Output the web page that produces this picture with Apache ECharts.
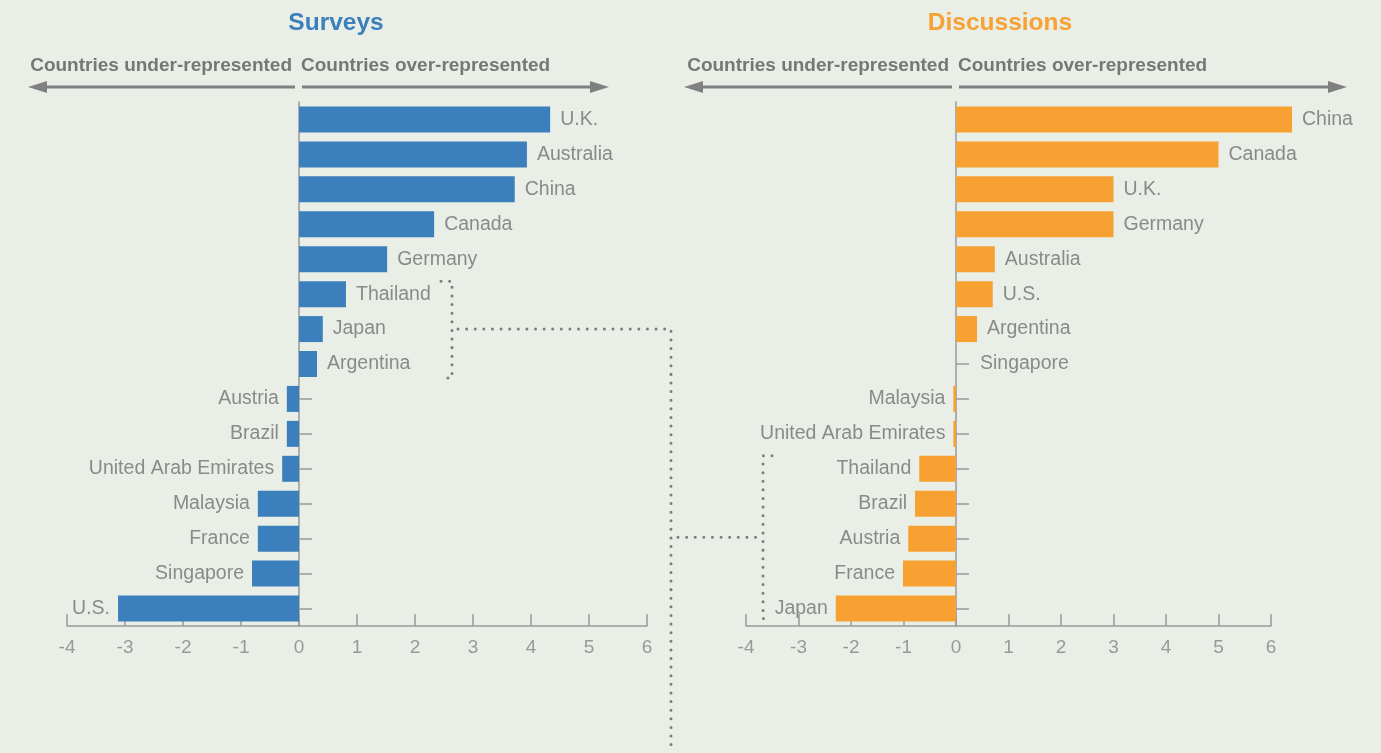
<!DOCTYPE html>
<html>
<head>
<meta charset="utf-8">
<script src="https://cdn.jsdelivr.net/npm/echarts@6/dist/echarts.min.js"></script>
<style>
  html, body { margin: 0; padding: 0; background: #e9efe6; }
  #chart { width: 1381px; height: 753px; }
</style>
</head>
<body>
<div id="chart"></div>
<script>
// Survey representation by country (over/under-represented index)
const surveyCountries = ['U.K.', 'Australia', 'China', 'Canada', 'Germany', 'Thailand', 'Japan', 'Argentina',
  'Austria', 'Brazil', 'United Arab Emirates', 'Malaysia', 'France', 'Singapore', 'U.S.'];
const surveyValues = [4.33, 3.93, 3.72, 2.33, 1.52, 0.81, 0.41, 0.31,
  -0.21, -0.21, -0.29, -0.71, -0.71, -0.81, -3.12];

// Discussion representation by country
const discussionCountries = ['China', 'Canada', 'U.K.', 'Germany', 'Australia', 'U.S.', 'Argentina', 'Singapore',
  'Malaysia', 'United Arab Emirates', 'Thailand', 'Brazil', 'Austria', 'France', 'Japan'];
const discussionValues = [6.4, 5.0, 3.0, 3.0, 0.74, 0.70, 0.40, 0,
  -0.05, -0.05, -0.70, -0.78, -0.91, -1.01, -2.29];

const panelTitles = ['Surveys', 'Discussions'];
const directionLabels = ['Countries under-represented', 'Countries over-represented'];
const axisMin = -4, axisMax = 6, axisStep = 1;

const FONT = '"Liberation Sans", Arial, sans-serif';
const BLUE = '#3b80bd';
const ORANGE = '#f7a133';
const GREY_TEXT = '#8a8a8a';
const AXIS = '#9a9a9a';

const grids = [
  { left: 67, top: 102, width: 580, height: 524 },
  { left: 746, top: 102, width: 525, height: 524 }
];

function barData(values) {
  return values.map(v => ({
    value: v,
    label: {
      position: v < 0 ? 'left' : 'right',
      distance: v === 0 ? 24 : (v < 0 ? 8 : 10)
    }
  }));
}

function xAxisFor(i) {
  return {
    gridIndex: i, type: 'value', min: axisMin, max: axisMax, interval: axisStep,
    splitLine: { show: false },
    axisLine: { show: true, lineStyle: { color: AXIS, width: 1.5 } },
    axisTick: { show: true, inside: true, length: 12, lineStyle: { color: AXIS, width: 1.5 } },
    axisLabel: { color: '#999', fontFamily: FONT, fontSize: 19, margin: 12 }
  };
}

function yAxisFor(i, cats) {
  return {
    gridIndex: i, type: 'category', data: cats, inverse: true,
    axisLine: { show: true, onZero: true, lineStyle: { color: AXIS, width: 1.5 } },
    axisTick: { show: true, inside: true, length: 13, alignWithLabel: true, lineStyle: { color: AXIS, width: 1.5 } },
    axisLabel: { show: false }
  };
}

function seriesFor(i, values, color) {
  return {
    type: 'bar', xAxisIndex: i, yAxisIndex: i,
    data: barData(values),
    barWidth: 26, clip: false,
    itemStyle: { color: color },
    label: {
      show: true, formatter: '{b}', color: GREY_TEXT,
      fontFamily: FONT, fontSize: 19.5
    }
  };
}

const chart = echarts.init(document.getElementById('chart'), null, { renderer: 'canvas' });

chart.setOption({
  backgroundColor: '#e9efe6',
  animation: false,
  title: [
    { text: panelTitles[0], left: 331, top: 6, textAlign: 'center',
      textStyle: { color: BLUE, fontFamily: FONT, fontSize: 24.5, fontWeight: 'bold' } },
    { text: panelTitles[1], left: 995, top: 6, textAlign: 'center',
      textStyle: { color: ORANGE, fontFamily: FONT, fontSize: 24.5, fontWeight: 'bold' } }
  ],
  grid: grids,
  xAxis: [xAxisFor(0), xAxisFor(1)],
  yAxis: [yAxisFor(0, surveyCountries), yAxisFor(1, discussionCountries)],
  series: [
    seriesFor(0, surveyValues, BLUE),
    seriesFor(1, discussionValues, ORANGE)
  ]
});

// Decorations: direction arrows above each panel and dotted brackets linking countries
const graphics = [];
const arrowY = 87;
const arrowColor = '#808080';

function addHeader(gridIndex, leftTip, rightTip) {
  const zeroX = chart.convertToPixel({ gridIndex: gridIndex }, [0, 0])[0];
  graphics.push(
    { type: 'text', x: zeroX - 7, y: 66, style: { text: directionLabels[0], fill: '#777', font: 'bold 19px ' + FONT, textAlign: 'right', textVerticalAlign: 'middle' } },
    { type: 'text', x: zeroX + 2, y: 66, style: { text: directionLabels[1], fill: '#777', font: 'bold 19px ' + FONT, textAlign: 'left', textVerticalAlign: 'middle' } },
    { type: 'line', shape: { x1: leftTip + 16, y1: arrowY, x2: zeroX - 4, y2: arrowY }, style: { stroke: arrowColor, lineWidth: 3 } },
    { type: 'line', shape: { x1: zeroX + 3, y1: arrowY, x2: rightTip - 16, y2: arrowY }, style: { stroke: arrowColor, lineWidth: 3 } },
    { type: 'polygon', shape: { points: [[leftTip, arrowY], [leftTip + 19, arrowY - 6], [leftTip + 19, arrowY + 6]] }, style: { fill: arrowColor } },
    { type: 'polygon', shape: { points: [[rightTip, arrowY], [rightTip - 19, arrowY - 6], [rightTip - 19, arrowY + 6]] }, style: { fill: arrowColor } }
  );
}
addHeader(0, 28, 609);
addHeader(1, 684, 1347);

function rowY(gridIndex, name) {
  return chart.convertToPixel({ gridIndex: gridIndex }, [0, name])[1];
}

const dotStyle = { stroke: '#7c7c7c', lineWidth: 3, lineDash: [0.01, 8.6], lineCap: 'round', fill: null };

// Bracket around Thailand..Argentina in the survey panel
const lTop = rowY(0, 'Thailand') - 13;
const lBot = rowY(0, 'Argentina') + 14;
const lMid = rowY(0, 'Japan');
const lx = 452;
// Bracket around Thailand..Japan in the discussion panel
const rTop = rowY(1, 'Thailand') - 13;
const rBot = rowY(1, 'Japan') + 10;
const rMid = (rTop + rBot) / 2;
const rx = 763;
const linkX = 671;

graphics.push(
  { type: 'polyline', shape: { points: [[441, lTop], [lx, lTop], [lx, lBot], [441, lBot]] }, style: dotStyle },
  { type: 'polyline', shape: { points: [[lx + 6, lMid], [linkX, lMid], [linkX, 753]] }, style: dotStyle },
  { type: 'polyline', shape: { points: [[linkX + 7, rMid], [rx - 5, rMid]] }, style: dotStyle },
  { type: 'polyline', shape: { points: [[rx + 9, rTop], [rx, rTop], [rx, rBot], [rx + 9, rBot]] }, style: dotStyle }
);

chart.setOption({ graphic: graphics });
</script>
</body>
</html>
